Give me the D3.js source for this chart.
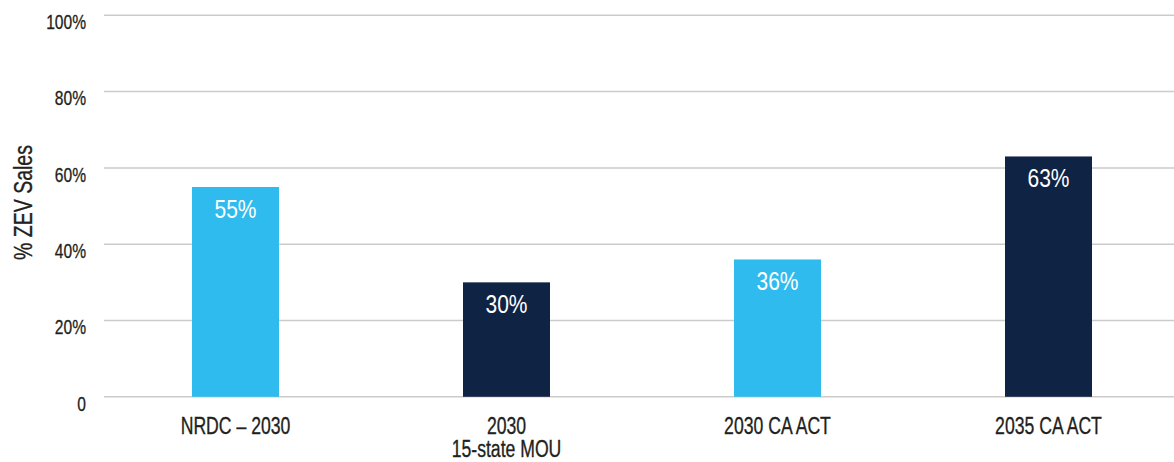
<!DOCTYPE html>
<html>
<head>
<meta charset="utf-8">
<script src="https://cdn.jsdelivr.net/npm/d3@7"></script>
<style>
  html, body { margin: 0; padding: 0; background: #fff; }
  svg { display: block; }
  text { font-family: "Liberation Sans", Arial, sans-serif; }
</style>
</head>
<body>
<svg id="chart" width="1174" height="462"></svg>
<script>
// ZEV sales targets
const categories = ["NRDC – 2030", "2030\n15-state MOU", "2030 CA ACT", "2035 CA ACT"];
const values = [55, 30, 36, 63];
const barColors = ["#2fbbee", "#0f2344", "#2fbbee", "#0f2344"];
const yTicks = [0, 20, 40, 60, 80, 100];
const yTickLabels = ["0", "20%", "40%", "60%", "80%", "100%"];
const yTitle = "% ZEV Sales";

const ink = "#231f20";
const svg = d3.select("#chart");

const y = d3.scaleLinear().domain([0, 100]).range([396.8, 15.3]);
const x = d3.scaleBand()
  .domain(categories)
  .range([100, 1184])
  .paddingInner(0.679)
  .paddingOuter(0.3395);
const cx = c => x(c) + x.bandwidth() / 2;

// gridlines
svg.append("g")
  .selectAll("line")
  .data(yTicks)
  .join("line")
  .attr("x1", 104)
  .attr("x2", 1174)
  .attr("y1", d => y(d))
  .attr("y2", d => y(d))
  .attr("stroke", "#cbcbcb")
  .attr("stroke-width", 1.5);

// y tick labels (condensed: horizontally squeezed)
svg.append("g")
  .selectAll("g")
  .data(yTicks)
  .join("g")
  .attr("transform", d => `translate(86,${y(d) + 13.8}) scale(0.8,1)`)
  .append("text")
  .attr("text-anchor", "end")
  .attr("font-size", 19.5)
  .attr("fill", ink)
  .attr("stroke", ink)
  .attr("stroke-width", 0.3)
  .text((d, i) => yTickLabels[i]);

// y axis title
svg.append("text")
  .attr("transform", "translate(31.5,202.5) rotate(-90) scale(0.78,1)")
  .attr("text-anchor", "middle")
  .attr("font-size", 25)
  .attr("fill", ink)
  .attr("stroke", ink)
  .attr("stroke-width", 0.35)
  .text(yTitle);

// bars
svg.append("g")
  .selectAll("rect")
  .data(values)
  .join("rect")
  .attr("x", (d, i) => x(categories[i]))
  .attr("width", x.bandwidth())
  .attr("y", d => y(d))
  .attr("height", d => y(0) - y(d))
  .attr("fill", (d, i) => barColors[i]);

// value labels inside bars
svg.append("g")
  .selectAll("g")
  .data(values)
  .join("g")
  .attr("transform", (d, i) => `translate(${cx(categories[i])},${y(d) + 31}) scale(0.84,1)`)
  .append("text")
  .attr("text-anchor", "middle")
  .attr("font-size", 25)
  .attr("fill", "#ffffff")
  .text(d => d + "%");

// category labels
svg.append("g")
  .selectAll("g")
  .data(categories)
  .join("g")
  .attr("transform", d => `translate(${cx(d)},434) scale(0.75,1)`)
  .append("text")
  .attr("text-anchor", "middle")
  .attr("font-size", 23.5)
  .attr("fill", ink)
  .attr("stroke", ink)
  .attr("stroke-width", 0.35)
  .each(function(d) {
    d3.select(this).selectAll("tspan")
      .data(d.split("\n"))
      .join("tspan")
      .attr("x", 0)
      .attr("y", (l, i) => i * 23.5)
      .text(l => l);
  });
</script>
</body>
</html>
